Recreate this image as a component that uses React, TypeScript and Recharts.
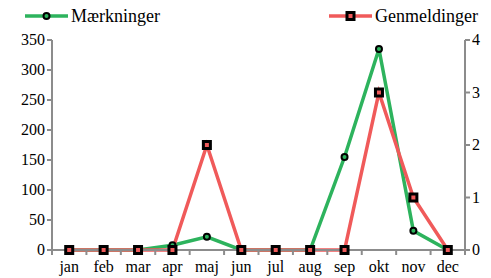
import { LineChart, Line, XAxis, YAxis } from 'recharts'

const months = ['jan', 'feb', 'mar', 'apr', 'maj', 'jun', 'jul', 'aug', 'sep', 'okt', 'nov', 'dec']
const maerkninger = [0, 0, 0, 8, 22, 0, 0, 0, 155, 335, 32, 0]
const genmeldinger = [0, 0, 0, 0, 2, 0, 0, 0, 0, 3, 1, 0]
const leftTicks = [0, 50, 100, 150, 200, 250, 300, 350]
const rightTicks = [0, 1, 2, 3, 4]

const GREEN = '#2db35d'
const RED = '#f05a5a'
const AXIS = '#8c8c8c'
const FONT = 'Liberation Serif, Times New Roman, serif'

const data = months.map((m, i) => ({
  month: m,
  maerkninger: maerkninger[i],
  genmeldinger: genmeldinger[i]
}))

// green round marker with black ring
const CircleDot = (props: any) => {
  const { cx, cy } = props
  if (cx == null || cy == null) return null
  return <circle cx={cx} cy={cy} r={3} fill={GREEN} stroke="#000" strokeWidth={2} />
}

// red square marker with thick black border
const SquareDot = (props: any) => {
  const { cx, cy } = props
  if (cx == null || cy == null) return null
  return <rect x={cx - 3.5} y={cy - 3.5} width={7} height={7} fill={RED} stroke="#000" strokeWidth={3} />
}

// Excel style: tick marks sit between the categories
const MonthTick = (props: any) => {
  const { x, y, payload, index, visibleTicksCount } = props
  const half = 413 / months.length / 2
  return (
    <g>
      <line x1={x - half} y1={y - 8} x2={x - half} y2={y - 3} stroke={AXIS} strokeWidth={2} />
      {index === visibleTicksCount - 1 && (
        <line x1={x + half} y1={y - 8} x2={x + half} y2={y - 3} stroke={AXIS} strokeWidth={2} />
      )}
      <text x={x} y={y + 14} textAnchor="middle" fontSize={16} style={{ fontFamily: FONT }} fill="#000">
        {payload.value}
      </text>
    </g>
  )
}

const ValueTick = (props: any) => {
  const { x, y, payload, textAnchor } = props
  return (
    <text x={x} y={y} dy={5} textAnchor={textAnchor} fontSize={16} style={{ fontFamily: FONT }} fill="#000">
      {payload.value}
    </text>
  )
}

const LegendContent = () => (
  <svg width={491} height={32} style={{ display: 'block' }}>
    <line x1={25} y1={16} x2={68} y2={16} stroke={GREEN} strokeWidth={3.5} />
    <CircleDot cx={46.5} cy={16} />
    <text x={71} y={22} fontSize={18} style={{ fontFamily: FONT }} fill="#000">Mærkninger</text>
    <line x1={329} y1={16} x2={372} y2={16} stroke={RED} strokeWidth={3.5} />
    <SquareDot cx={350.5} cy={16} />
    <text x={375} y={22} fontSize={18} style={{ fontFamily: FONT }} fill="#000">Genmeldinger</text>
  </svg>
)

export default function App() {
  return (
    <div style={{ position: 'fixed', left: 0, top: 0, width: 491, height: 278, background: '#fff' }}>
      <div style={{ position: 'absolute', left: 0, top: 0 }}>
        <LegendContent />
      </div>
      <LineChart width={491} height={278} data={data} margin={{ top: 40, right: 0, bottom: 0, left: 0 }}>
        <XAxis
          dataKey="month"
          scale="band"
          height={28}
          axisLine={{ stroke: AXIS, strokeWidth: 2 }}
          tickLine={false}
          interval={0}
          tick={<MonthTick />}
        />
        <YAxis
          yAxisId="left"
          width={52}
          domain={[0, 350]}
          ticks={leftTicks}
          axisLine={{ stroke: AXIS, strokeWidth: 2 }}
          tickLine={{ stroke: AXIS, strokeWidth: 2 }}
          tickSize={5}
          tick={<ValueTick />}
        />
        <YAxis
          yAxisId="right"
          orientation="right"
          width={26}
          domain={[0, 4]}
          ticks={rightTicks}
          axisLine={{ stroke: AXIS, strokeWidth: 2 }}
          tickLine={{ stroke: AXIS, strokeWidth: 2 }}
          tickSize={5}
          tick={<ValueTick />}
        />
        <Line
          yAxisId="left"
          type="linear"
          dataKey="maerkninger"
          stroke={GREEN}
          strokeWidth={3.5}
          dot={<CircleDot />}
          isAnimationActive={false}
        />
        <Line
          yAxisId="right"
          type="linear"
          dataKey="genmeldinger"
          stroke={RED}
          strokeWidth={3.5}
          dot={<SquareDot />}
          isAnimationActive={false}
        />
      </LineChart>
    </div>
  )
}
